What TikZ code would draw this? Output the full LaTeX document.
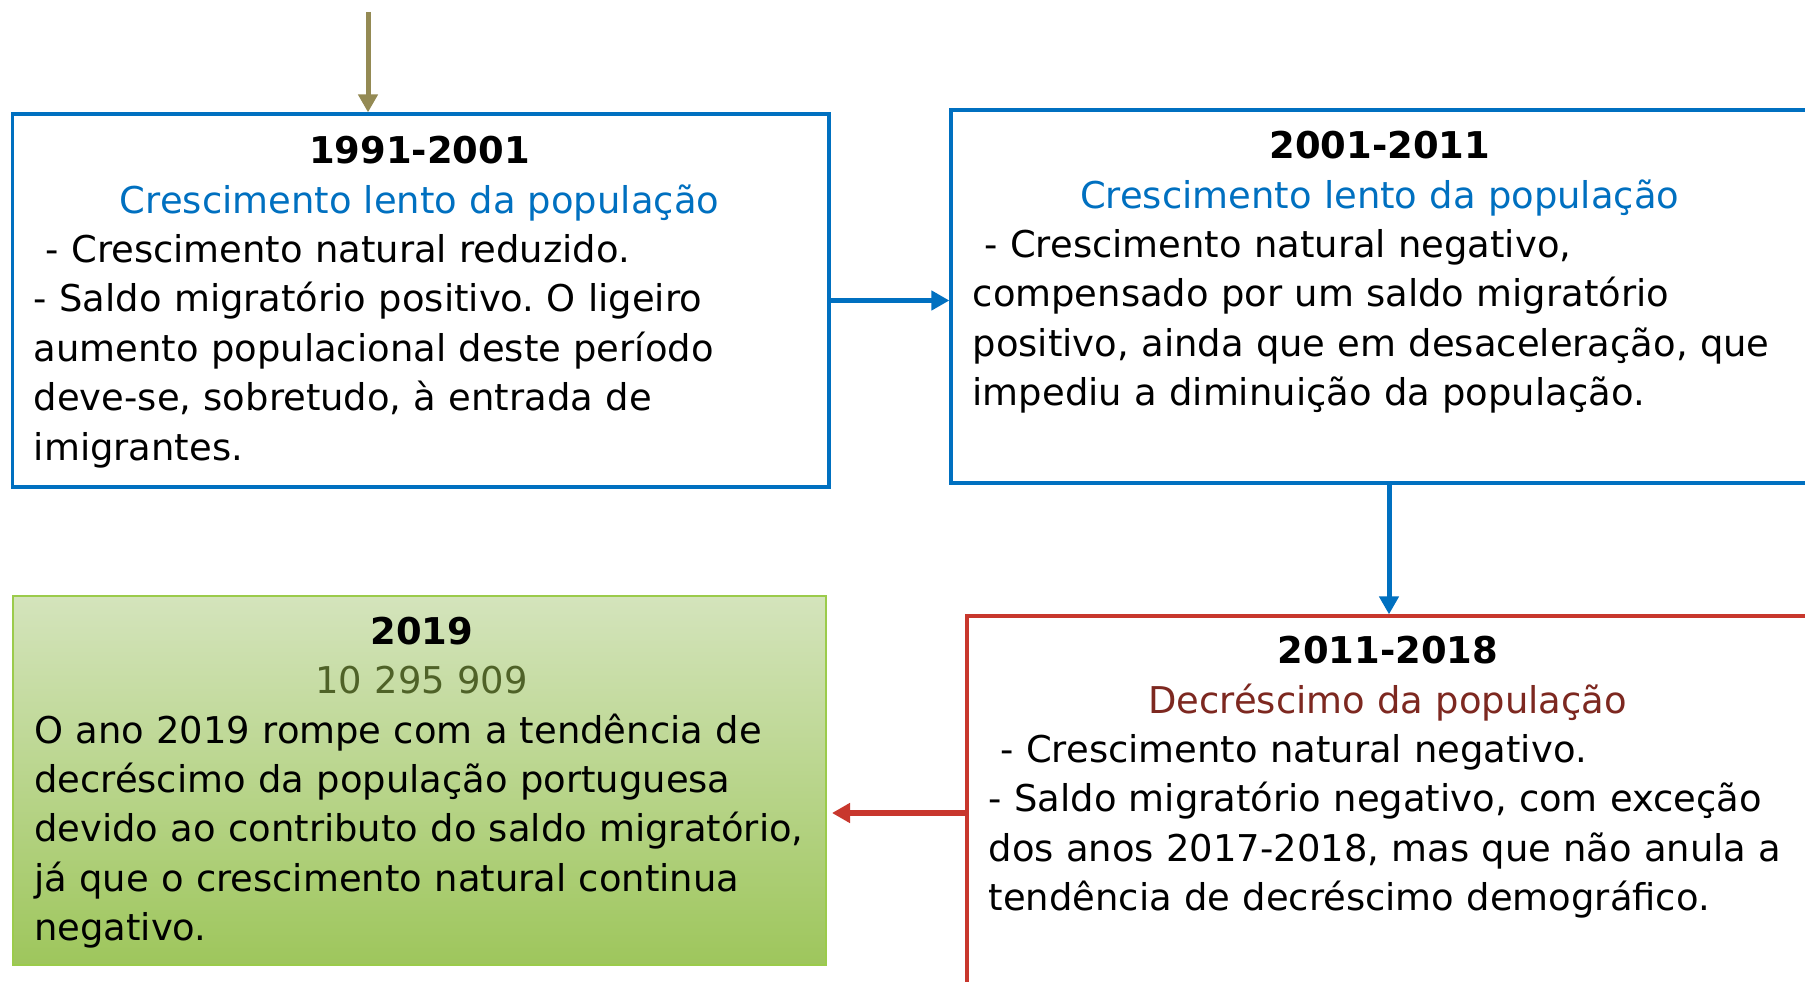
\documentclass[tikz,border=0pt]{standalone}
\usepackage{fontspec}
\setmainfont{DejaVu Sans}
\usetikzlibrary{arrows.meta,positioning}
\frenchspacing

\definecolor{boxblue}{RGB}{0,112,192}
\definecolor{boxred}{RGB}{200,55,45}
\definecolor{darkred}{RGB}{125,40,32}
\definecolor{arrowolive}{RGB}{148,138,84}
\definecolor{greenline}{RGB}{155,203,75}
\definecolor{greentop}{RGB}{212,228,188}
\definecolor{greenbottom}{RGB}{158,198,92}
\definecolor{darkgreen}{RGB}{79,98,40}

\begin{document}
\begin{tikzpicture}
		\tikzstyle {box} = [draw, line width=0.065cm, inner sep=0pt]
		\tikzstyle {blue box} = [box, draw=boxblue]
		\tikzstyle {red box} = [box, draw=boxred]
		\tikzstyle {green box} = [box, draw=greenline, line width=0.045cm, top color=greentop, bottom color=greenbottom]
		\tikzstyle {box text} = [anchor=north west, inner sep=0pt, align=left, font={\fontsize{21}{28.1}\selectfont}]
		\tikzstyle {link} = [line width=0.1cm, -{Triangle[length=0.36cm,width=0.38cm]}]

		\useasboundingbox (0,0) rectangle (36.1,19.62);
		\fill[white] (0,0) rectangle (36.1,19.62);

		\node[blue box, minimum width=16.33cm, minimum height=7.46cm] (b1) at (8.417,13.61) {};
		\node[blue box, minimum width=17.2cm, minimum height=7.46cm] (b2) at (27.62,13.69) {};
		\node[red box, minimum width=16.88cm, minimum height=7.7cm] (b3) at (27.78,3.45) {};
		\node[green box, minimum width=16.26cm, minimum height=7.38cm] (b4) at (8.39,4.01) {};

		\node[box text, text width=15.43cm] (t1) at ([shift={(0.45,-0.33)}]b1.north west)
			{\strut{\centering\textbf{1991-2001}\\\textcolor{boxblue}{Crescimento lento da população}\par}%
			\hspace*{.32em}- Crescimento natural reduzido.\\
			- Saldo migratório positivo. O ligeiro\\
			aumento populacional deste período\\
			deve-se, sobretudo, à entrada de\\
			imigrantes.};
		\node[box text, text width=16.28cm] (t2) at ([shift={(0.46,-0.31)}]b2.north west)
			{\strut{\centering\textbf{2001-2011}\\\textcolor{boxblue}{Crescimento lento da população}\par}%
			\hspace*{.32em}- Crescimento natural negativo,\\
			compensado por um saldo migratório\\
			positivo, ainda que em desaceleração, que\\
			impediu a diminuição da população.};
		\node[box text, text width=15.96cm] (t3) at ([shift={(0.46,-0.29)}]b3.north west)
			{\strut{\centering\textbf{2011-2018}\\\textcolor{darkred}{Decréscimo da população}\par}%
			\hspace*{.32em}- Crescimento natural negativo.\\
			- Saldo migratório negativo, com exceção\\
			dos anos 2017-2018, mas que não anula a\\
			tendência de decréscimo demográfico.};
		\node[box text, text width=15.5cm] (t4) at ([shift={(0.44,-0.29)}]b4.north west)
			{\strut{\centering\textbf{2019}\\\textcolor{darkgreen}{10 295 909}\par}%
			O ano 2019 rompe com a tendência de\\
			decréscimo da população portuguesa\\
			devido ao contributo do saldo migratório,\\
			já que o crescimento natural continua\\
			negativo.};

		\coordinate (top) at (7.36,19.38);
		\draw[link, arrowolive] (top) -- (top |- b1.north);
		\draw[link, boxblue] (b1.east) -- (b1.east -| b2.west);
		\draw[link, boxblue] (b3.north |- b2.south) -- (b3.north);
		\coordinate (tip) at (16.64,3.36);
		\draw[link, boxred] (b3.west |- tip) -- (tip);

	\end{tikzpicture}
\end{document}
